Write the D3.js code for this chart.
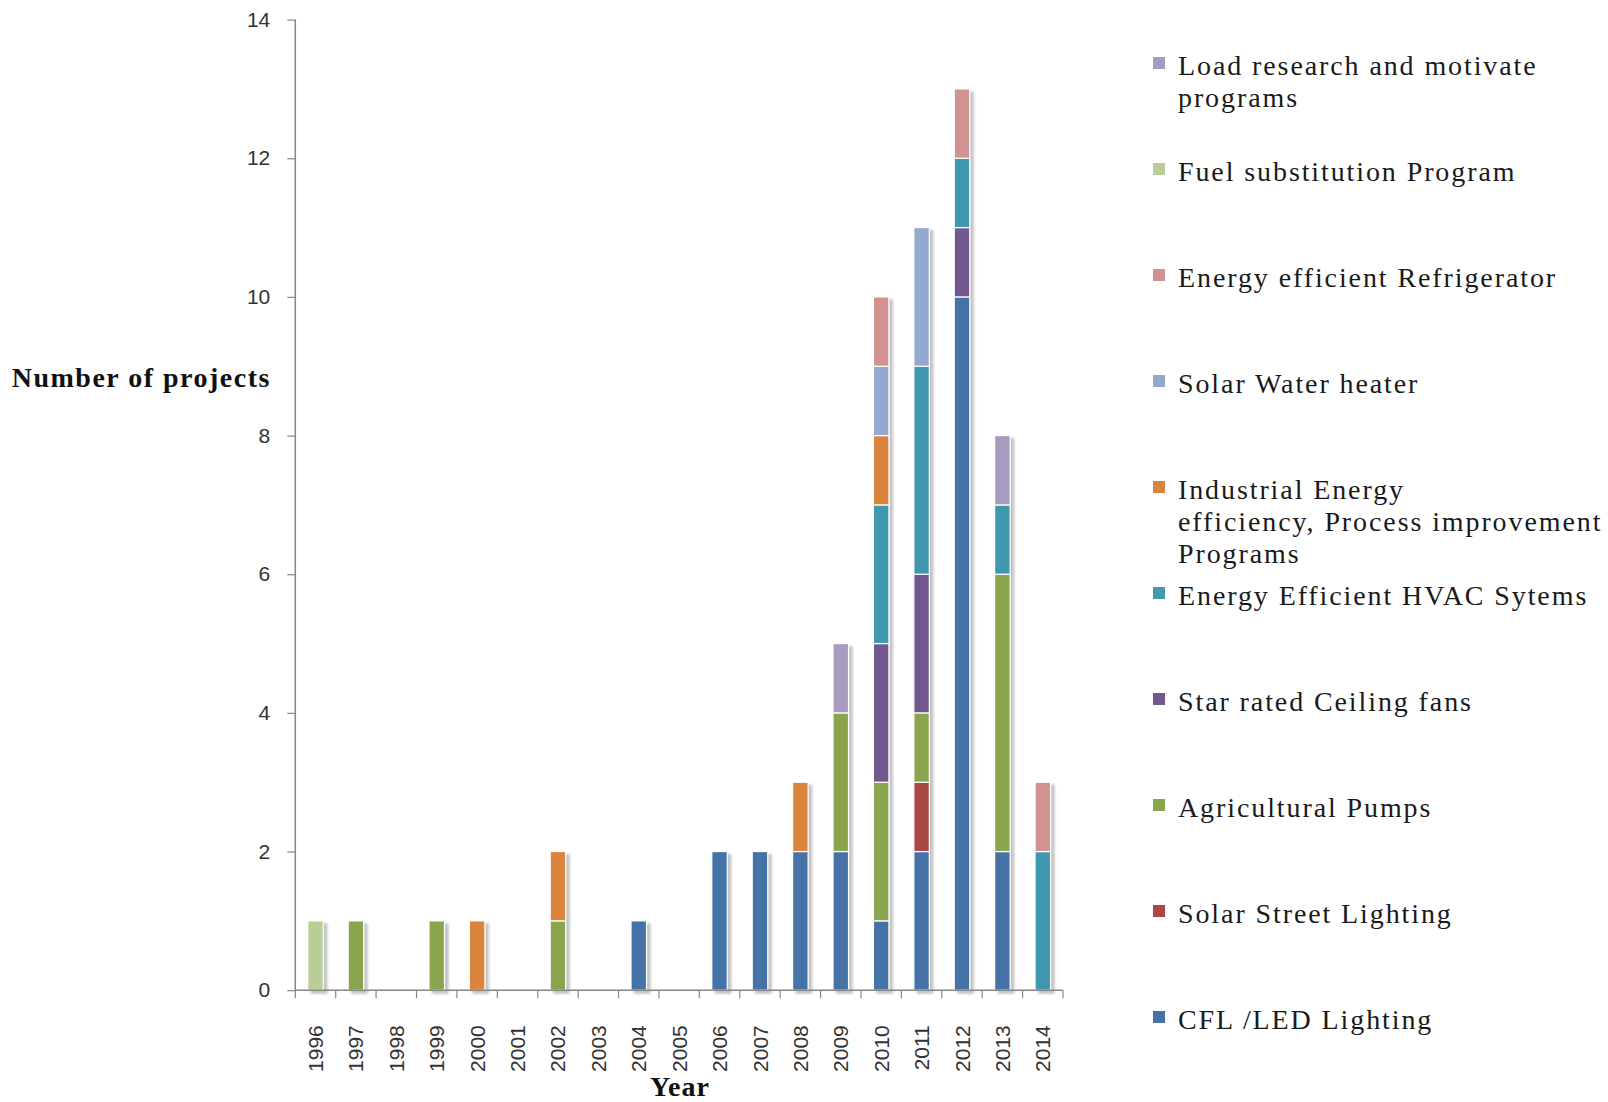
<!DOCTYPE html>
<html>
<head>
<meta charset="utf-8">
<script src="https://cdn.jsdelivr.net/npm/d3@7"></script>
<style>
  html, body { margin: 0; padding: 0; background: #fff; }
  svg { display: block; }
</style>
</head>
<body>
<svg id="chart" width="1608" height="1102"></svg>
<script>
// Years on the category axis
const years = ["1996","1997","1998","1999","2000","2001","2002","2003","2004","2005",
               "2006","2007","2008","2009","2010","2011","2012","2013","2014"];

// Projects per programme type, one value per year (stacked bottom to top in this order)
const cflLed       = [0,0,0,0,0,0,0,0,1,0,2,2,2,2,1,2,10,2,0];
const solarStreet  = [0,0,0,0,0,0,0,0,0,0,0,0,0,0,0,1,0,0,0];
const agriPumps    = [0,1,0,1,0,0,1,0,0,0,0,0,0,2,2,1,0,4,0];
const ceilingFans  = [0,0,0,0,0,0,0,0,0,0,0,0,0,0,2,2,1,0,0];
const hvac         = [0,0,0,0,0,0,0,0,0,0,0,0,0,0,2,3,1,1,2];
const industrial   = [0,0,0,0,1,0,1,0,0,0,0,0,1,0,1,0,0,0,0];
const solarWater   = [0,0,0,0,0,0,0,0,0,0,0,0,0,0,1,2,0,0,0];
const refrigerator = [0,0,0,0,0,0,0,0,0,0,0,0,0,0,1,0,1,0,1];
const fuelSubst    = [1,0,0,0,0,0,0,0,0,0,0,0,0,0,0,0,0,0,0];
const loadResearch = [0,0,0,0,0,0,0,0,0,0,0,0,0,1,0,0,0,1,0];

// Series names (legend text, line breaks as "\n")
const seriesNames = [
  "CFL /LED Lighting",
  "Solar Street Lighting",
  "Agricultural Pumps",
  "Star rated Ceiling  fans",
  "Energy Efficient HVAC Sytems",
  "Industrial Energy\nefficiency, Process improvement\nPrograms",
  "Solar Water heater",
  "Energy efficient Refrigerator",
  "Fuel substitution Program",
  "Load research and motivate\nprograms"
];
const seriesValues = [cflLed, solarStreet, agriPumps, ceilingFans, hvac,
                      industrial, solarWater, refrigerator, fuelSubst, loadResearch];
const seriesColors = ["#4572A7","#AA4643","#89A54E","#71588F","#4198AF",
                      "#DB843D","#93A9CF","#D19392","#B9CD96","#A99BBD"];

const yTicks = [0,2,4,6,8,10,12,14];

// Build a row-per-year table for d3.stack
const keys = seriesNames.map((_, i) => "s" + i);
const table = years.map((yr, j) => {
  const row = { year: yr };
  keys.forEach((k, i) => { row[k] = seriesValues[i][j]; });
  return row;
});

const svg = d3.select("#chart");
const plot = { left: 295.3, right: 1063, top: 19.6, bottom: 990.2 };

const x = d3.scaleBand().domain(years).range([plot.left, plot.right]).paddingInner(0).paddingOuter(0);
const y = d3.scaleLinear().domain([0, 14]).range([plot.bottom, plot.top]);
const color = d3.scaleOrdinal().domain(keys).range(seriesColors);

const barW = 15.5;

// Soft drop shadow behind each column
const defs = svg.append("defs");
const f = defs.append("filter").attr("id", "shadow")
  .attr("x", "-50%").attr("y", "-10%").attr("width", "200%").attr("height", "120%");
f.append("feDropShadow").attr("dx", 3.5).attr("dy", 3).attr("stdDeviation", 1.2)
  .attr("flood-color", "#7a7a7a").attr("flood-opacity", 0.45);

const stacked = d3.stack().keys(keys)(table);

const bars = svg.append("g").attr("filter", "url(#shadow)");
bars.selectAll("g.layer")
  .data(stacked)
  .join("g")
  .attr("class", "layer")
  .attr("fill", d => color(d.key))
  .selectAll("rect")
  .data(d => d.filter(p => p[1] - p[0] > 0))
  .join("rect")
  .attr("x", d => x(d.data.year) + x.bandwidth() / 2 - barW / 2)
  .attr("width", barW)
  .attr("y", d => y(d[1]))
  .attr("height", d => y(d[0]) - y(d[1]))
  .attr("stroke", "#ffffff")
  .attr("stroke-width", 1.2);

// Axes
const axisColor = "#868686";
const tickFont = "'Liberation Sans', Arial, sans-serif";

const yAxis = svg.append("g")
  .attr("transform", `translate(${plot.left},0)`)
  .call(d3.axisLeft(y).tickValues(yTicks).tickSize(8).tickPadding(17).tickFormat(d3.format("d")));
yAxis.select(".domain").attr("stroke", axisColor).attr("stroke-width", 1.5).attr("d", `M0,${plot.top}V${plot.bottom}`);
yAxis.selectAll(".tick line").attr("stroke", axisColor).attr("stroke-width", 1.2);
yAxis.selectAll(".tick text").attr("font-family", tickFont).attr("font-size", 21).attr("fill", "#333");

// Category axis: tick marks at band boundaries, labels rotated at band centres
const xAxisG = svg.append("g").attr("transform", `translate(0,${plot.bottom})`);
xAxisG.append("line")
  .attr("x1", plot.left).attr("x2", plot.right)
  .attr("stroke", axisColor).attr("stroke-width", 1.5);
const boundaries = years.map(yr => x(yr)).concat([plot.right]);
xAxisG.selectAll("line.tick")
  .data(boundaries)
  .join("line")
  .attr("class", "tick")
  .attr("x1", d => d).attr("x2", d => d)
  .attr("y1", 0).attr("y2", 8)
  .attr("stroke", axisColor).attr("stroke-width", 1.2);
xAxisG.selectAll("text")
  .data(years)
  .join("text")
  .attr("transform", d => `translate(${x(d) + x.bandwidth() / 2},35) rotate(-90)`)
  .attr("text-anchor", "end")
  .attr("dy", "0.36em")
  .attr("font-family", tickFont)
  .attr("font-size", 21)
  .attr("fill", "#333")
  .text(d => d);

// Axis titles
const serif = "'Liberation Serif', 'Times New Roman', serif";
svg.append("text")
  .attr("x", 11.7).attr("y", 386.7)
  .attr("font-family", serif).attr("font-weight", "bold")
  .attr("font-size", 28).attr("letter-spacing", 1.5)
  .attr("fill", "#111")
  .text("Number of projects");
svg.append("text")
  .attr("x", 680).attr("y", 1096)
  .attr("text-anchor", "middle")
  .attr("font-family", serif).attr("font-weight", "bold")
  .attr("font-size", 28).attr("letter-spacing", 1)
  .attr("fill", "#111")
  .text("Year");

// Legend: top entry is the last stacked series
const legendOrder = keys.slice().reverse();
const legend = svg.append("g");
const items = legend.selectAll("g")
  .data(legendOrder)
  .join("g")
  .attr("transform", (d, i) => `translate(1153,${75 + i * 106})`);
items.append("rect")
  .attr("x", 0).attr("y", -18).attr("width", 12).attr("height", 12)
  .attr("fill", d => color(d));
items.append("text")
  .attr("font-family", serif)
  .attr("font-size", 28)
  .attr("letter-spacing", 1.9)
  .attr("fill", "#1a1a1a")
  .each(function(d) {
    const lines = seriesNames[keys.indexOf(d)].split("\n");
    d3.select(this).selectAll("tspan")
      .data(lines)
      .join("tspan")
      .attr("x", 25)
      .attr("y", (l, k) => k * 32)
      .text(l => l);
  });
</script>
</body>
</html>
